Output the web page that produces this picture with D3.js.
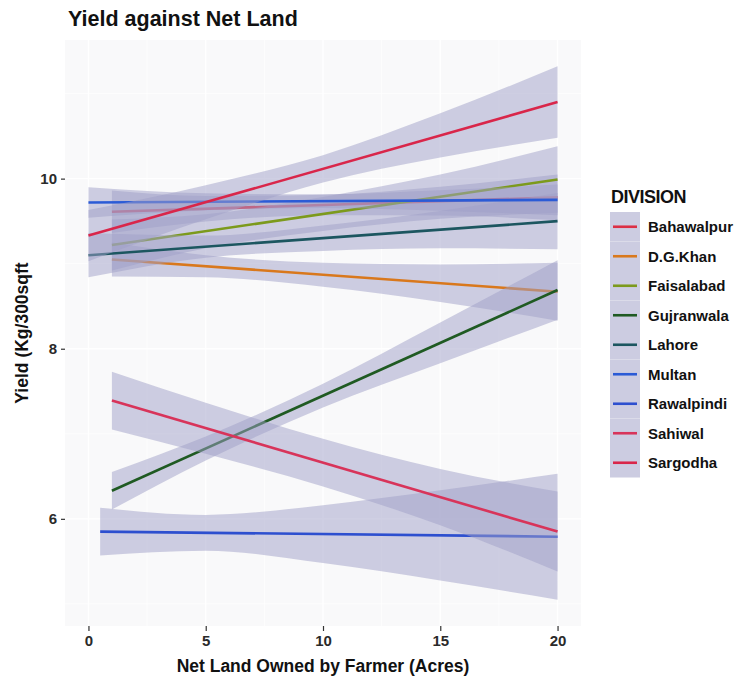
<!DOCTYPE html>
<html>
<head>
<meta charset="utf-8">
<script src="https://cdn.jsdelivr.net/npm/d3@7/dist/d3.min.js"></script>
<style>
  html, body { margin: 0; padding: 0; background: #ffffff; }
  svg { display: block; font-family: "Liberation Sans", Arial, Helvetica, sans-serif; }
</style>
</head>
<body>
<svg id="chart" width="734" height="683"></svg>
<script>
// Linear fits of yield on net land, one per division, with 95% confidence bands.
const divisions = ["Bahawalpur", "D.G.Khan", "Faisalabad", "Gujranwala", "Lahore",
                   "Multan", "Rawalpindi", "Sahiwal", "Sargodha"];
const lineColors = ["#dc2f45", "#d9781c", "#7c9a1c", "#1f5a22", "#1c5660",
                    "#2b5bd6", "#2d4fcf", "#d8345a", "#d9264a"];

// smallest land size in each division's data (acres); all fits run to 20
const landMin = [1, 1, 1, 1, 0, 0, 0.5, 1, 0];
const landMax = 20;
// fitted yield at the smallest and largest land size (Kg/300sqft)
const fitAtMin = [9.61, 9.05, 9.22, 6.33, 9.10, 9.72, 5.85, 7.39, 9.33];
const fitAtMax = [9.78, 8.67, 9.99, 8.69, 9.50, 9.75, 5.79, 5.85, 10.90];

// confidence-band half widths at land = [min, 5, 10, 15, 20]
const bandHalfWidth = [
  [0.25, 0.15, 0.12, 0.17, 0.27],
  [0.20, 0.13, 0.14, 0.22, 0.34],
  [0.30, 0.20, 0.20, 0.26, 0.39],
  [0.22, 0.14, 0.14, 0.24, 0.35],
  [0.26, 0.13, 0.15, 0.22, 0.33],
  [0.18, 0.10, 0.08, 0.12, 0.18],
  [0.28, 0.21, 0.34, 0.53, 0.74],
  [0.34, 0.30, 0.28, 0.33, 0.47],
  [0.30, 0.20, 0.16, 0.26, 0.42]
];
const bandLand = [null, 5, 10, 15, 20]; // first entry is each division's landMin

const xTicks = [0, 5, 10, 15, 20];
const yTicks = [6, 8, 10];

const svg = d3.select("#chart");

const x = d3.scaleLinear().domain([-1, 21]).range([65, 581]);
const y = d3.scaleLinear().domain([4.74, 11.63]).range([626, 40]);

const panelColor = "#f9f9fa";
const bandColor = "#a0a0c8";
const bandOpacity = 0.5;

// panel background and grid
svg.append("rect")
  .attr("x", x.range()[0]).attr("y", y.range()[1])
  .attr("width", x.range()[1] - x.range()[0])
  .attr("height", y.range()[0] - y.range()[1])
  .attr("fill", panelColor);

const grid = svg.append("g").attr("stroke", "#ffffff");
d3.range(0, 20.01, 2.5).forEach(v => {
  grid.append("line")
    .attr("x1", x(v)).attr("x2", x(v))
    .attr("y1", y.range()[1]).attr("y2", y.range()[0])
    .attr("stroke-width", v % 5 === 0 ? 1.4 : 0.7);
});
d3.range(5, 11.01, 1).forEach(v => {
  grid.append("line")
    .attr("y1", y(v)).attr("y2", y(v))
    .attr("x1", x.range()[0]).attr("x2", x.range()[1])
    .attr("stroke-width", v % 2 === 0 ? 1.4 : 0.7);
});

svg.append("clipPath").attr("id", "panel-clip")
  .append("rect")
  .attr("x", x.range()[0]).attr("y", y.range()[1])
  .attr("width", x.range()[1] - x.range()[0])
  .attr("height", y.range()[0] - y.range()[1]);

const plot = svg.append("g").attr("clip-path", "url(#panel-clip)");

const area = d3.area()
  .x(d => x(d.land))
  .y0(d => y(d.lo))
  .y1(d => y(d.hi))
  .curve(d3.curveMonotoneX);

const line = d3.line()
  .x(d => x(d.land))
  .y(d => y(d.fit));

// each division: its band, then its fitted line (later bands tint earlier lines)
divisions.forEach((name, i) => {
  const slope = (fitAtMax[i] - fitAtMin[i]) / (landMax - landMin[i]);
  const fitAt = v => fitAtMin[i] + slope * (v - landMin[i]);
  const band = bandHalfWidth[i].map((hw, k) => {
    const land = k === 0 ? landMin[i] : bandLand[k];
    return { land, lo: fitAt(land) - hw, hi: fitAt(land) + hw };
  });
  const g = plot.append("g").attr("class", "division");
  g.append("path")
    .datum(band)
    .attr("d", area)
    .attr("fill", bandColor)
    .attr("fill-opacity", bandOpacity);
  g.append("path")
    .datum([{ land: landMin[i], fit: fitAtMin[i] }, { land: landMax, fit: fitAtMax[i] }])
    .attr("d", line)
    .attr("fill", "none")
    .attr("stroke", lineColors[i])
    .attr("stroke-width", 2.6);
});

// axes
const yAxis = svg.append("g")
  .attr("transform", `translate(${x.range()[0]},0)`)
  .call(d3.axisLeft(y).tickValues(yTicks).tickFormat(d3.format("d")).tickSize(4).tickPadding(4));
const xAxis = svg.append("g")
  .attr("transform", `translate(0,${y.range()[0]})`)
  .call(d3.axisBottom(x).tickValues(xTicks).tickFormat(d3.format("d")).tickSize(5).tickPadding(4));
[xAxis, yAxis].forEach(a => {
  a.select(".domain").remove();
  a.selectAll(".tick line").attr("stroke", "#333").attr("stroke-width", 1.2);
  a.selectAll(".tick text")
    .attr("fill", "#2a2a2a")
    .style("font-size", "15px")
    .style("font-weight", "bold")
    .style("font-family", "'Liberation Sans', Arial, sans-serif");
});

// titles
svg.append("text")
  .attr("x", 68).attr("y", 26)
  .attr("fill", "#111")
  .style("font-size", "21.5px").style("font-weight", "bold")
  .text("Yield against Net Land");

svg.append("text")
  .attr("x", (x.range()[0] + x.range()[1]) / 2).attr("y", 672)
  .attr("text-anchor", "middle")
  .attr("fill", "#111")
  .style("font-size", "17.5px").style("font-weight", "bold")
  .text("Net Land Owned by Farmer (Acres)");

svg.append("text")
  .attr("transform", `translate(28,${(y.range()[0] + y.range()[1]) / 2}) rotate(-90)`)
  .attr("text-anchor", "middle")
  .attr("fill", "#111")
  .style("font-size", "17.5px").style("font-weight", "bold")
  .text("Yield (Kg/300sqft");

// legend
const legend = svg.append("g").attr("transform", "translate(610,212)");
legend.append("text")
  .attr("x", 1).attr("y", -9)
  .attr("fill", "#111")
  .style("font-size", "18px").style("font-weight", "bold")
  .style("letter-spacing", "-0.5px")
  .text("DIVISION");

const keyW = 30, keyH = 29.5;
divisions.forEach((name, i) => {
  const k = legend.append("g").attr("transform", `translate(0,${i * keyH})`);
  k.append("rect").attr("width", keyW).attr("height", keyH).attr("fill", panelColor);
  k.append("rect").attr("width", keyW).attr("height", keyH)
    .attr("fill", bandColor).attr("fill-opacity", bandOpacity);
  k.append("line")
    .attr("x1", 3).attr("x2", keyW - 3)
    .attr("y1", keyH / 2).attr("y2", keyH / 2)
    .attr("stroke", lineColors[i]).attr("stroke-width", 2.6);
  k.append("text")
    .attr("x", 38).attr("y", keyH / 2)
    .attr("dy", "0.36em")
    .attr("fill", "#111")
    .style("font-size", "15px").style("font-weight", "bold")
    .text(name);
});
</script>
</body>
</html>
